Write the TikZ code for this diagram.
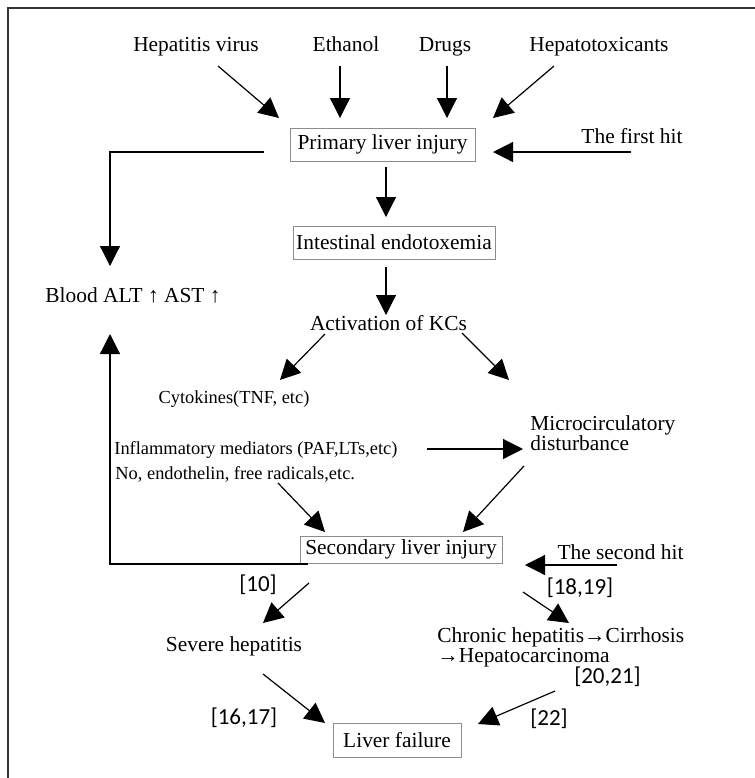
\documentclass[tikz,border=0pt]{standalone}
\usepackage{fontspec}
\setmainfont{Liberation Serif}
\newfontfamily\reffont{Carlito}
\usetikzlibrary{arrows.meta,calc}
\definecolor{framegray}{RGB}{51,51,56}
\tikzset{
  txt/.style={inner sep=0pt,font=\fontsize{10.7}{10}\selectfont},
  smalltxt/.style={inner sep=0pt,font=\fontsize{9.2}{12}\selectfont},
  ref/.style={inner sep=0pt,font=\reffont\fontsize{11.5}{12}\selectfont},
  stage/.style={draw=black!45,line width=0.5pt,inner sep=0pt,font=\fontsize{10.7}{10}\selectfont},
  arr/.style={line width=0.6pt,-{Triangle[length=10pt,width=10pt]}},
}
\begin{document}
\begin{tikzpicture}[x=0.5pt,y=-0.5pt]
            \useasboundingbox (0,0) rectangle (755,778);
            % Draw frame
            \draw[line width=1.25pt,framegray] (755,8) -- (8,8) -- (8,778);
            % Causes
            \node[txt] (hv) at (196,47) {Hepatitis virus};
            \node[txt] (eth) at (346,44) {Ethanol};
            \node[txt] (drg) at (445,47) {Drugs};
            \node[txt] (htx) at (599,47) {Hepatotoxicants};
            % Stages
            \node[stage,minimum width=92.5pt,minimum height=16.5pt] (pri) at (382.5,144.5) {Primary liver injury};
            \node[txt] (fh) at (632,136) {The first hit};
            \node[stage,minimum width=101pt,minimum height=16.5pt] (ie) at (394,242.5) {Intestinal endotoxemia};
            \node[txt] (kc) at (388.5,323) {Activation of KCs};
            \node[txt] (blood) at (133,295) {Blood ALT ↑ AST ↑};
            \node[smalltxt] (cyto) at (234,399) {Cytokines(TNF, etc)};
            \node[smalltxt,anchor=west] (infl) at (114,450) {Inflammatory mediators (PAF,LTs,etc)};
            \node[smalltxt,anchor=west] (nox) at (115,474) {No, endothelin, free radicals,etc.};
            \node[txt,anchor=west,align=left] (micro) at (530,433) {Microcirculatory\\disturbance};
            \node[stage,minimum width=101pt,minimum height=13.5pt] (sec) at (401,549.5) {Secondary liver injury};
            \node[txt] (sh) at (620.5,552) {The second hit};
            \node[txt] (sev) at (234,646) {Severe hepatitis};
            \node[txt,anchor=west,align=left] (chr) at (437,647) {Chronic hepatitis→Cirrhosis\\→Hepatocarcinoma};
            \node[stage,minimum width=64pt,minimum height=17pt] (lf) at (397,740) {Liver failure};
            % References
            \node[ref] (r10) at (258,585) {[10]};
            \node[ref] (r1617) at (244,718) {[16,17]};
            \node[ref] (r1819) at (580,588) {[18,19]};
            \node[ref] (r2021) at (607.5,677) {[20,21]};
            \node[ref] (r22) at (549,719) {[22]};
            % Arrows
            \draw[arr] ($(hv)+(22,19)$) -- ($(pri)+(-103.5,-26.5)$);
            \draw[arr] ($(eth)+(-6,22)$) -- ($(pri)+(-42.5,-26.5)$);
            \draw[arr] ($(drg)+(2,19)$) -- ($(pri)+(64.5,-26.5)$);
            \draw[arr] ($(htx)+(-45,19)$) -- ($(pri)+(110.5,-26.5)$);
            \draw[arr] ($(fh)+(-1,16)$) -- ($(pri)+(110.5,7.5)$);
            \draw[arr] ($(pri)+(-118.5,7.5)$) -| ($(blood)+(-23,-29)$);
            \draw[arr] ($(pri)+(3.5,22.5)$) -- ($(ie)+(-8,-25.5)$);
            \draw[arr] ($(ie)+(-8,24.5)$) -- ($(kc)+(-2.5,-8)$);
            \draw[arr] ($(kc)+(-63.5,11)$) -- ($(cyto)+(46,-19)$);
            \draw[arr] ($(kc)+(73.5,10)$) -- ($(micro.west)+(-21,-53)$);
            \draw[arr] ($(infl.east)+(29,-1)$) -- ($(micro.west)+(-7,16)$);
            \draw[arr] ($(nox.west)+(163,9)$) -- ($(sec)+(-76,-17.5)$);
            \draw[arr] ($(micro.west)+(-6,33)$) -- ($(sec)+(62,-17.5)$);
            \draw[arr] ($(sh)+(-3.5,13)$) -- ($(sec)+(124,15.5)$);
            \draw[arr] ($(sec)+(-93,14.5)$) -| ($(blood)+(-23,39)$);
            \draw[arr] ($(sec)+(-92,33.5)$) -- ($(sev)+(29,-23)$);
            \draw[arr] ($(sec)+(122,42.5)$) -- ($(chr.west)+(132,-24)$);
            \draw[arr] ($(sev)+(29,28)$) -- ($(lf)+(-72,-17)$);
            \draw[arr] ($(chr.west)+(118,44)$) -- ($(lf)+(81,-16)$);
\end{tikzpicture}
\end{document}
